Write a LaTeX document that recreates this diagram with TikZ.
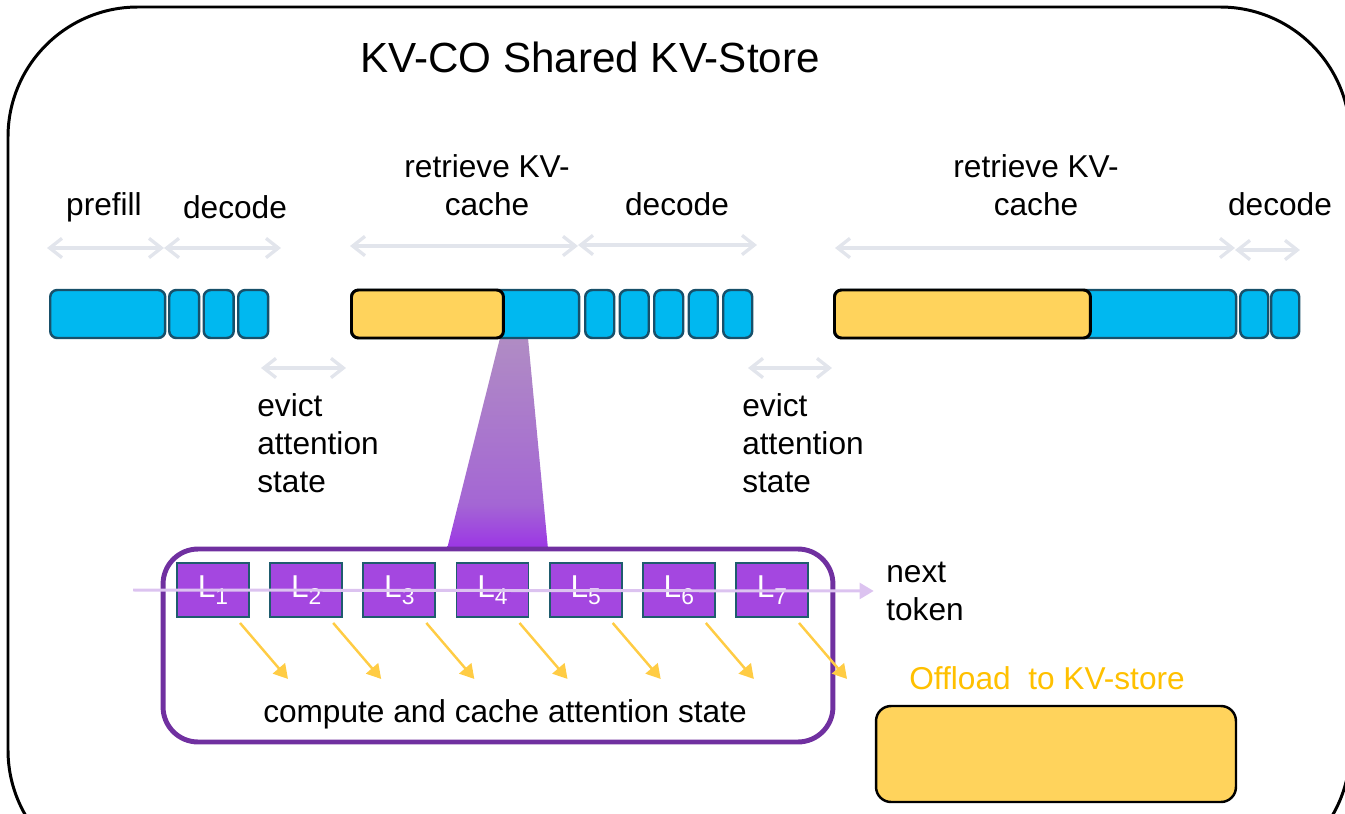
\documentclass[tikz,border=0pt]{standalone}
\usepackage{fontspec}
\setmainfont{Liberation Sans}
\usetikzlibrary{arrows.meta, positioning, calc}
\definecolor{barblue}{HTML}{00B8F0}
\definecolor{barline}{HTML}{18506A}
\definecolor{kvyellow}{HTML}{FFD35C}
\definecolor{layerfill}{HTML}{A447E0}
\definecolor{layerline}{HTML}{1F5C6E}
\definecolor{boxpurple}{HTML}{7030A0}
\definecolor{flowpurple}{HTML}{DCC3F0}
\definecolor{cacheyellow}{HTML}{FFCC44}
\definecolor{spangray}{HTML}{E2E5EC}
\definecolor{offloadtext}{HTML}{FFC000}
\definecolor{wedgetop}{HTML}{B08CC4}
\definecolor{wedgemid}{HTML}{A466D4}
\definecolor{wedgebot}{HTML}{9B33E6}

\begin{document}
\begin{tikzpicture}[
    x=0.02cm, y=-0.02cm,
    every node/.style={font=\fontsize{18}{21.6}\selectfont},
    lab/.style={align=center, inner sep=0pt},
    seg/.style={draw=barline, fill=barblue, line width=1.4pt, rounded corners=0.14cm,
        minimum height=0.96cm, inner sep=0pt, anchor=west},
    kv/.style={seg, draw=black, fill=kvyellow, line width=1.7pt},
    layerbox/.style={draw=layerline, fill=layerfill, line width=1.1pt, minimum width=1.44cm,
        minimum height=1.08cm, inner sep=0pt, text=white},
    spanarrow/.style={spangray, line width=1.9pt,
        {Straight Barb[length=7pt,width=11pt]}-{Straight Barb[length=7pt,width=11pt]}},
    cachearrow/.style={cacheyellow, line width=1.4pt, -{Triangle[length=8pt,width=9pt]}},
    flowarrow/.style={flowpurple, line width=1.7pt, -{Triangle[length=8pt,width=9pt]}},
]
\clip (0,0) rectangle (1345,814);

% outer store frame
\draw[line width=1.7pt, rounded corners=2.6cm] (8,7) rectangle (1350,880);
\node[font=\fontsize{24}{28}\selectfont] (title) at (590,57) {KV-CO Shared KV-Store};

% phase spans
\foreach \a/\b/\y in {47/164/248, 164/281/248, 350/578/246, 578/757/245,
                      261/346/368, 748/832/368, 835/1235/248, 1235/1300/250}{
    \draw[spanarrow] (\a,\y) -- (\b,\y);
}
\node[lab] (pf) at (104,207) {prefill};
\node[lab] (dc1) at (235,207) {decode};
\node[lab] (rt1) at (487,185) {retrieve KV-\\cache};
\node[lab] (dc2) at (677,204) {decode};
\node[lab] (rt2) at (1036,185) {retrieve KV-\\cache};
\node[lab] (dc3) at (1280,204) {decode};
\node[lab, align=left, anchor=west] (ev1) at (257,443) {evict\\attention\\state};
\node[lab, align=left, anchor=west] (ev2) at (742,443) {evict\\attention\\state};

% zoom wedge into the layer stack, brightening near the bottom
\begin{scope}
    \clip (500,338) -- (528,338) -- (548,549) -- (447,549) -- cycle;
    \shade[top color=wedgetop, bottom color=wedgemid] (440,338) rectangle (560,505);
    \shade[top color=wedgemid, bottom color=wedgebot] (440,504) rectangle (560,550);
\end{scope}

% request timelines
\node[seg, minimum width=2.30cm] (pre) at (49,314) {};
\foreach \x [count=\i] in {168, 202.5, 237}
    \node[seg, minimum width=0.60cm] (da\i) at (\x,314) {};
\node[seg, minimum width=4.56cm] (ret1) at (350,314) {};
\node[kv, minimum width=3.04cm] (kv1) at (350,314) {};
\foreach \x [count=\i] in {584, 618.5, 653, 687.5, 722}
    \node[seg, minimum width=0.58cm] (db\i) at (\x,314) {};
\node[seg, minimum width=8.04cm] (ret2) at (833,314) {};
\node[kv, minimum width=5.12cm] (kv2) at (833,314) {};
\foreach \x [count=\i] in {1239, 1270}
    \node[seg, minimum width=0.56cm] (dd\i) at (\x,314) {};

% layer stack
\node[draw=boxpurple, line width=2.8pt, rounded corners=0.7cm,
      minimum width=13.4cm, minimum height=3.86cm] (stack) at (498,645.5) {};
\foreach \i in {1,...,7}{
    \node[layerbox] (L\i) at ({213+93.17*(\i-1)},590)
        {L\raisebox{-4pt}{\fontsize{13}{13}\selectfont\i}};
    \draw[cachearrow] ($(L\i.south)+(27,5)$) -- ++(48,56);
}
\node[lab, align=left, anchor=west] (next) at (886,591) {next\\token};
\coordinate (flowin) at (133,590);
\draw[flowarrow, shorten >=7pt] (flowin) -- (next.west);
\node[lab] (cmp) at (505,714) {compute and cache attention state};

% offload target
\node[lab, text=offloadtext] (offl) at (1047,678) {Offload\ \ to KV-store};
\node[draw=black, fill=kvyellow, line width=1.4pt, rounded corners=0.3cm,
      minimum width=7.2cm, minimum height=1.92cm] (store) at (1056,754) {};

\end{tikzpicture}
\end{document}
